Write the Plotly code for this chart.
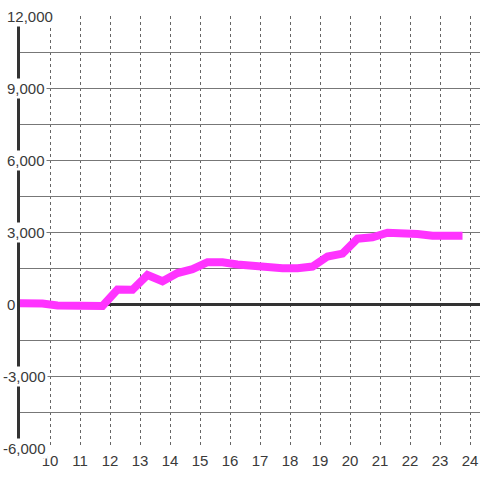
import plotly.graph_objects as go

# hours of the day and running total
hours = [8.75, 9.25, 9.75, 10.25, 10.75, 11.25, 11.75, 12.25, 12.75, 13.25,
         13.75, 14.25, 14.75, 15.25, 15.75, 16.25, 16.75, 17.25, 17.75, 18.25,
         18.75, 19.25, 19.75, 20.25, 20.75, 21.25, 21.75, 22.25, 22.75, 23.25,
         23.75]
values = [30, 30, 20, -60, -80, -80, -80, 600, 590, 1210,
          950, 1290, 1450, 1740, 1740, 1650, 1600, 1490, 1490, 1490,
          1560, 1980, 2100, 2720, 2780, 2970, 2970, 2920, 2840, 2840,
          2840]

x_ticks = list(range(10, 25))
y_grid = list(range(-6000, 12001, 1500))
y_labels = [-6000, -3000, 0, 3000, 6000, 9000, 12000]

fig = go.Figure()
fig.add_trace(go.Scatter(x=hours, y=values, mode="lines",
                         line=dict(color="#ff33ff", width=8),
                         hoverinfo="skip", showlegend=False))

for v in y_labels:
    fig.add_annotation(x=0, xref="paper", y=v, yref="y", xanchor="left",
                       xshift=-15 if v >= 0 else -19, yanchor="middle",
                       text=f"{v:,}", showarrow=False,
                       bgcolor="white", borderpad=1,
                       font=dict(family="Liberation Sans, Arial", size=15, color="#3a3a3a"))

fig.update_xaxes(range=[9, 24.333], tickvals=x_ticks, showgrid=True,
                 gridcolor="#666", gridwidth=1, griddash="3px,3px",
                 zeroline=False, showline=False, ticks="", ticklabelstandoff=2,
                 tickfont=dict(family="Liberation Sans, Arial", size=15, color="#3a3a3a"))
fig.update_yaxes(range=[-6000, 12000], tickvals=y_grid, showticklabels=False,
                 showgrid=True, gridcolor="#777", gridwidth=1,
                 zeroline=True, zerolinecolor="#333", zerolinewidth=3,
                 showline=True, linecolor="#333", linewidth=3, ticks="")

fig.update_layout(width=480, height=480, margin=dict(l=20, r=0, t=16, b=32),
                  plot_bgcolor="white", paper_bgcolor="white")

fig.write_html("out.html", config={"displayModeBar": False},
               post_script="document.body.style.margin='0';")
